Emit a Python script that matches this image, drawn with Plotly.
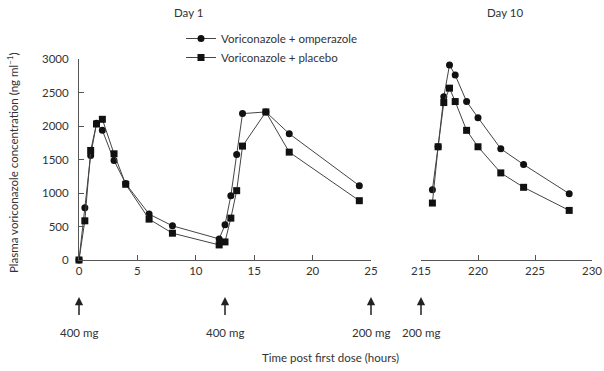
import plotly.graph_objects as go

# Day 1 data
t_day1 = [0, 0.5, 1, 1.5, 2, 3, 4, 6, 8, 12, 12.5, 13, 13.5, 14, 16, 18, 24]
omep_day1 = [0, 780, 1560, 2040, 1935, 1485, 1140, 685, 510, 315, 525, 960, 1575, 2185, 2210, 1885, 1110]
plac_day1 = [0, 585, 1635, 2030, 2100, 1585, 1130, 610, 400, 225, 270, 625, 1035, 1700, 2210, 1610, 885]

# Day 10 data
t_day10 = [216, 216.5, 217, 217.5, 218, 219, 220, 222, 224, 228]
omep_day10 = [1050, 1690, 2435, 2910, 2760, 2365, 2125, 1660, 1425, 990]
plac_day10 = [850, 1690, 2350, 2565, 2365, 1935, 1690, 1300, 1085, 740]

# Doses
dose_times = [0, 12.5, 25, 215]
dose_labels = ["400 mg", "400 mg", "200 mg", "200 mg"]
dose_axes = ["x", "x", "x", "x2"]

y_ticks = [0, 500, 1000, 1500, 2000, 2500, 3000]

FONT = "Lato"
TXT = "#333333"
LINE = "#555555"
FS = 11.5

fig = go.Figure()

line_style = dict(color="#444444", width=1)
fig.add_trace(go.Scatter(x=t_day1, y=omep_day1, mode="lines+markers", name="Voriconazole + omperazole",
                         line=line_style, marker=dict(symbol="circle", size=7, color="#111111"),
                         xaxis="x", yaxis="y", legendgroup="o", cliponaxis=False))
fig.add_trace(go.Scatter(x=t_day1, y=plac_day1, mode="lines+markers", name="Voriconazole + placebo",
                         line=line_style, marker=dict(symbol="square", size=7, color="#111111"),
                         xaxis="x", yaxis="y", legendgroup="p", cliponaxis=False))
fig.add_trace(go.Scatter(x=t_day10, y=omep_day10, mode="lines+markers", showlegend=False,
                         line=line_style, marker=dict(symbol="circle", size=7, color="#111111"),
                         xaxis="x2", yaxis="y", legendgroup="o", cliponaxis=False))
fig.add_trace(go.Scatter(x=t_day10, y=plac_day10, mode="lines+markers", showlegend=False,
                         line=line_style, marker=dict(symbol="square", size=7, color="#111111"),
                         xaxis="x2", yaxis="y", legendgroup="p", cliponaxis=False))

annotations = []
for t, lab, ax_ in zip(dose_times, dose_labels, dose_axes):
    annotations.append(dict(x=t, y=(260 - 297) / 201, xref=ax_, yref="paper", text=lab, showarrow=True,
                            ax=0, ay=35, arrowhead=2, arrowsize=1.1, arrowwidth=1.5,
                            arrowcolor="#222222", startstandoff=9,
                            font=dict(size=FS, color=TXT, family=FONT)))

annotations += [
    dict(x=(330 - 79) / 513, y=(260 - 357) / 201, xref="paper", yref="paper",
         text="Time post first dose (hours)", showarrow=False, yanchor="middle", xanchor="center",
         font=dict(size=FS, color=TXT, family=FONT)),
    dict(x=(188 - 79) / 513, y=(260 - 12) / 201, xref="paper", yref="paper", text="Day 1",
         showarrow=False, yanchor="middle", xanchor="center",
         font=dict(size=FS, color=TXT, family=FONT)),
    dict(x=(505 - 79) / 513, y=(260 - 12) / 201, xref="paper", yref="paper", text="Day 10",
         showarrow=False, yanchor="middle", xanchor="center",
         font=dict(size=FS, color=TXT, family=FONT)),
    dict(x=(12 - 79) / 513, y=(260 - 163) / 201, xref="paper", yref="paper", textangle=-90,
         text="Plasma voriconazole concentration (ng ml<sup>−1</sup>)", showarrow=False,
         yanchor="middle", xanchor="center",
         font=dict(size=FS, color=TXT, family=FONT)),
]

axis_common = dict(showline=True, linecolor=LINE, linewidth=1, ticks="inside", ticklen=5,
                   tickcolor=LINE, showgrid=False, zeroline=False,
                   tickfont=dict(size=FS, color=TXT, family=FONT))

fig.update_layout(
    width=604, height=371,
    margin=dict(l=79, r=12, t=59, b=111, autoexpand=False),
    plot_bgcolor="white", paper_bgcolor="white",
    font=dict(family=FONT, color=TXT, size=FS),
    xaxis=dict(domain=[0, (371 - 79) / 513], range=[0, 25], tickvals=[0, 5, 10, 15, 20, 25],
               automargin=False, **axis_common),
    xaxis2=dict(domain=[(421 - 79) / 513, 1], range=[215, 230], tickvals=[215, 220, 225, 230],
                automargin=False, **axis_common),
    yaxis=dict(range=[0, 3000], tickvals=y_ticks, automargin=False, ticklabelstandoff=7, **axis_common),
    legend=dict(x=(181 - 79) / 513, y=(260 - 24) / 201, xanchor="left", yanchor="top",
                bgcolor="rgba(0,0,0,0)", font=dict(size=FS, color=TXT, family=FONT),
                tracegroupgap=0, itemwidth=30),
    annotations=annotations,
    showlegend=True,
)

fig.write_html("out.html", config={"displayModeBar": False},
               post_script="document.body.style.margin='0';")
